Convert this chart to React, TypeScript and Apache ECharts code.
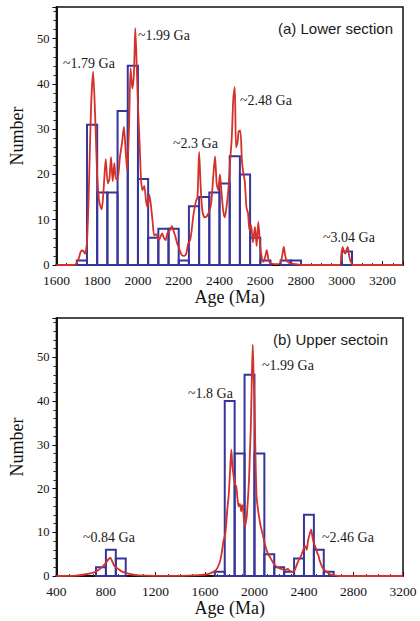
import React, { useEffect, useRef } from "react";
import * as echarts from "echarts";

// ---------- Panel (a) Lower section ----------
const binWidthA = 50;
const binStartA = [1700, 1750, 1800, 1850, 1900, 1950, 2000, 2050, 2100, 2150, 2200, 2250, 2300, 2350, 2400, 2450, 2500, 2550, 2600, 2700, 2750, 3000];
const binCountA = [1, 31, 16, 16, 34, 44, 19, 6, 8, 8, 1, 13, 15, 16, 18, 24, 20, 6, 1, 1, 1, 3];

const kdeAgeA = [1600, 1690, 1700, 1710, 1720, 1730, 1740, 1750, 1760, 1770, 1780, 1790, 1800, 1810, 1822, 1832, 1842, 1852, 1860, 1868, 1876, 1884, 1892, 1900, 1912, 1922, 1931, 1940, 1947, 1956, 1964, 1972, 1980, 1987, 1994, 2000, 2008, 2015, 2022, 2031, 2040, 2047, 2056, 2064, 2071, 2080, 2090, 2103, 2110, 2119, 2127, 2135, 2144, 2151, 2160, 2167, 2175, 2183, 2191, 2199, 2207, 2215, 2225, 2236, 2247, 2256, 2263, 2272, 2284, 2292, 2300, 2308, 2316, 2327, 2338, 2351, 2360, 2370, 2378, 2386, 2394, 2402, 2410, 2418, 2426, 2435, 2444, 2452, 2460, 2468, 2475, 2481, 2488, 2494, 2502, 2510, 2516, 2524, 2532, 2540, 2547, 2555, 2564, 2574, 2582, 2590, 2600, 2608, 2616, 2624, 2632, 2640, 2650, 2670, 2690, 2705, 2715, 2725, 2740, 2770, 2800, 2990, 2997, 3004, 3010, 3017, 3024, 3029, 3036, 3044, 3055, 3300];
const kdeValA = [0, 0, 0.5, 1.5, 3, 3.2, 2.5, 5, 18, 35, 42.7, 33, 20, 14, 12.3, 17, 23.4, 18, 19, 23.8, 18.5, 22.5, 19, 19, 24, 27, 30.5, 25, 21, 30, 43.5, 39, 42, 52.3, 44, 35.5, 27, 19, 16.5, 17.5, 14, 12.8, 15.5, 13, 10, 6.5, 6.8, 5.5, 6.2, 7, 6, 5.5, 7, 7.3, 8, 8.6, 7.5, 6.4, 5, 4, 3, 2.2, 2, 2.4, 4.8, 5.5, 7.5, 11, 14, 15, 25, 17, 12, 10.5, 10.8, 12, 14, 20, 24, 18, 16.5, 20, 16, 12, 10.5, 13, 17, 23, 28, 37, 39.3, 26, 27, 29.5, 29.7, 23, 20.5, 18.5, 12.8, 11.4, 7.7, 8.8, 5, 8.4, 4.2, 9.5, 4, 1.5, 0.7, 1.8, 3.3, 1.2, 0.4, 0.2, 0.2, 1.5, 4, 1.5, 0.5, 0.2, 0, 0, 2, 4, 3, 2.5, 3.5, 4, 2, 0.7, 0, 0];

// ---------- Panel (b) Upper section ----------
const binWidthB = 80;
const binStartB = [720, 800, 880, 1680, 1760, 1840, 1920, 2000, 2080, 2160, 2240, 2320, 2400, 2480, 2560];
const binCountB = [2, 6, 4, 1, 40, 28, 46, 28, 5, 2, 1, 4, 14, 6, 1];

const kdeAgeB = [400, 560, 640, 700, 740, 775, 800, 820, 835, 850, 866, 885, 906, 930, 960, 1000, 1065, 1200, 1400, 1550, 1620, 1673, 1700, 1726, 1750, 1766, 1780, 1792, 1803, 1813, 1822, 1832, 1842, 1853, 1862, 1872, 1882, 1893, 1900, 1906, 1915, 1925, 1932, 1938, 1948, 1956, 1963, 1970, 1978, 1986, 1992, 1999, 2008, 2017, 2027, 2036, 2046, 2057, 2064, 2070, 2080, 2097, 2115, 2136, 2156, 2176, 2200, 2229, 2250, 2269, 2285, 2308, 2321, 2335, 2348, 2361, 2375, 2388, 2400, 2410, 2422, 2432, 2445, 2458, 2468, 2479, 2490, 2500, 2507, 2516, 2524, 2534, 2545, 2560, 2585, 2610, 2638, 2680, 3200];
const kdeValB = [0, 0.1, 0.4, 0.8, 1.4, 2.2, 3, 3.8, 4.2, 3.4, 2.4, 1.9, 1.5, 1, 0.7, 0.4, 0.15, 0.05, 0.05, 0.2, 0.4, 1, 1.8, 3.8, 8, 10, 15, 18.5, 24, 28.9, 25, 22.8, 21, 20.5, 18, 15.9, 16.5, 14.8, 16.2, 15.9, 13, 11.4, 12.5, 13.7, 18, 22, 28, 33.4, 44, 52.9, 47, 41, 28, 18.2, 15.5, 13.7, 12, 10.6, 9.8, 9.1, 7.8, 6, 4.8, 3.8, 2.8, 2.2, 1.8, 1.5, 1.4, 1.6, 1.2, 0.9, 1.1, 2, 3, 3.8, 4.5, 5.5, 6.4, 6.8, 6, 8, 9.5, 10.6, 9, 7.6, 6.8, 6, 5.3, 4.8, 3.8, 3, 2.2, 1.5, 0.9, 0.4, 0.2, 0, 0];

const xTicksA = { min: 1600, max: 3300, interval: 200 };
const xTicksB = { min: 400, max: 3200, interval: 400 };
const yTicksA = { min: 0, max: 57, interval: 10 };
const yTicksB = { min: 0, max: 59, interval: 10 };

const BLUE = "#35359a";
const RED = "#d3312a";
const SERIF = "'Liberation Serif', 'DejaVu Serif', serif";
const SANS = "'Liberation Sans', Arial, sans-serif";

function histSeries(starts: number[], counts: number[], width: number, idx: number) {
  return {
    type: "custom",
    xAxisIndex: idx,
    yAxisIndex: idx,
    z: 2,
    data: starts.map((s, i) => [s, s + width, counts[i]]),
    encode: { x: [0, 1], y: 2 },
    renderItem: (_p: any, api: any) => {
      const p0 = api.coord([api.value(0), 0]);
      const p1 = api.coord([api.value(1), api.value(2)]);
      return {
        type: "rect",
        shape: { x: p0[0], y: p1[1], width: p1[0] - p0[0], height: p0[1] - p1[1] },
        style: { fill: "none", stroke: BLUE, lineWidth: 2 },
      };
    },
  };
}

function kdeSeries(ages: number[], vals: number[], idx: number) {
  return {
    type: "line",
    xAxisIndex: idx,
    yAxisIndex: idx,
    z: 3,
    symbol: "none",
    smooth: 0.25,
    data: ages.map((a, i) => [a, vals[i]]),
    lineStyle: { color: RED, width: 1.8 },
  };
}

function xAxis(t: { min: number; max: number; interval: number }, idx: number, minorSplit: number) {
  return {
    type: "value",
    gridIndex: idx,
    min: t.min,
    max: t.max,
    interval: t.interval,
    name: "Age (Ma)",
    nameLocation: "middle",
    nameGap: 20,
    nameTextStyle: { fontFamily: SERIF, fontSize: 18, color: "#111" },
    axisLine: { show: true, onZero: false, lineStyle: { color: "#111", width: 2 } },
    axisTick: { show: true, inside: true, length: 4, lineStyle: { color: "#111", width: 1 } },
    minorTick: { show: true, splitNumber: minorSplit, length: 2, lineStyle: { color: "#333" } },
    splitLine: { show: false },
    axisLabel: {
      margin: 9,
      fontFamily: SERIF,
      fontSize: 13.5,
      lineHeight: 12,
      color: "#111",
      formatter: (v: number) => ((v - t.min) % t.interval === 0 ? String(v) : ""),
    },
  };
}

function yAxis(t: { min: number; max: number; interval: number }, idx: number) {
  return {
    type: "value",
    gridIndex: idx,
    min: t.min,
    max: t.max,
    interval: t.interval,
    name: "Number",
    nameLocation: "middle",
    nameGap: 22,
    nameTextStyle: { fontFamily: SERIF, fontSize: 18, color: "#111" },
    axisLine: { show: true, lineStyle: { color: "#111", width: 2 } },
    axisTick: { show: true, inside: false, length: 4, lineStyle: { color: "#111", width: 1 } },
    minorTick: { show: true, splitNumber: 5, length: 3, lineStyle: { color: "#333" } },
    splitLine: { show: false },
    axisLabel: {
      margin: 7,
      fontFamily: SERIF,
      fontSize: 12.5,
      lineHeight: 10,
      color: "#111",
      formatter: (v: number) => (v % t.interval === 0 ? String(v) : ""),
    },
  };
}

function note(text: string, x: number, y: number, sans = false, size = 14) {
  return {
    type: "text",
    x,
    y,
    z: 10,
    style: {
      text,
      fill: "#1a1a1a",
      font: `${size}px ${sans ? SANS : SERIF}`,
      textVerticalAlign: "middle",
    },
  };
}

export default function App() {
  const ref = useRef<HTMLDivElement>(null);
  useEffect(() => {
    document.body.style.margin = "0";
    const chart = echarts.init(ref.current!, undefined, { renderer: "svg" });
    chart.setOption({
      animation: false,
      backgroundColor: "#fff",
      grid: [
        { left: 50, right: 17, top: 7, height: 258, show: true, borderColor: "#111", borderWidth: 1.5, backgroundColor: "transparent" },
        { left: 50, right: 17, top: 318, height: 258, show: true, borderColor: "#111", borderWidth: 1.5, backgroundColor: "transparent" },
      ],
      xAxis: [xAxis(xTicksA, 0, 4), xAxis(xTicksB, 1, 4)],
      yAxis: [yAxis(yTicksA, 0), yAxis(yTicksB, 1)],
      series: [
        histSeries(binStartA, binCountA, binWidthA, 0),
        kdeSeries(kdeAgeA, kdeValA, 0),
        histSeries(binStartB, binCountB, binWidthB, 1),
        kdeSeries(kdeAgeB, kdeValB, 1),
      ],
      graphic: [
        note("(a) Lower section", 278, 28, true, 15),
        note("~1.79 Ga", 63, 63),
        note("~1.99 Ga", 138, 35),
        note("~2.3 Ga", 173, 143),
        note("~2.48 Ga", 240, 100),
        note("~3.04 Ga", 323, 237),
        note("(b) Upper sectoin", 273, 339, true, 15),
        note("~1.8 Ga", 188, 393),
        note("~1.99 Ga", 262, 365),
        note("~0.84 Ga", 83, 537),
        note("~2.46 Ga", 322, 537),
      ],
    });
    return () => chart.dispose();
  }, []);
  return <div ref={ref} style={{ position: "absolute", left: 0, top: 0, width: 420, height: 621 }} />;
}
